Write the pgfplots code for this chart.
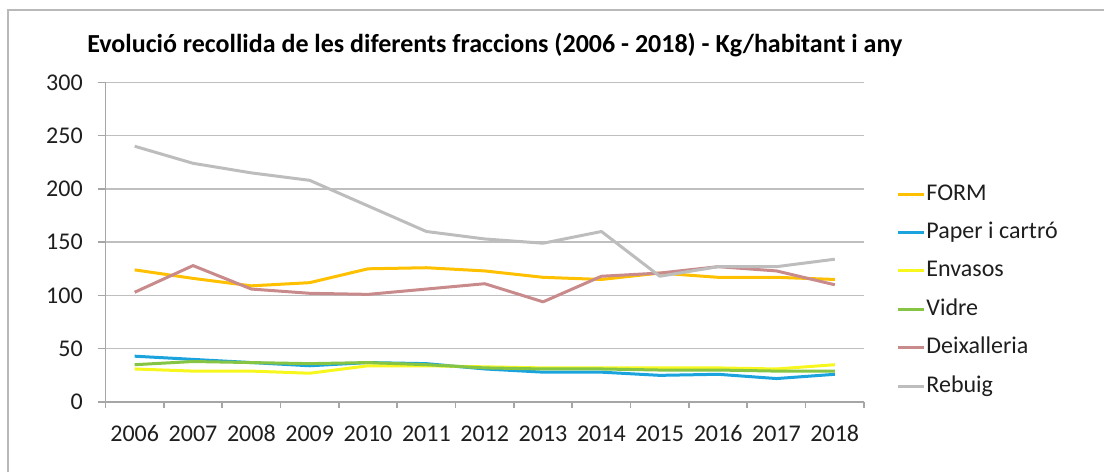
\documentclass[border=0pt]{standalone}
\usepackage{fontspec}
\setmainfont{Carlito}
\usepackage{pgfplots}
\pgfplotsset{compat=1.18}
\definecolor{cForm}{HTML}{FFC000}
\definecolor{cPaper}{HTML}{1AA3DC}
\definecolor{cEnv}{HTML}{F7F71E}
\definecolor{cVidre}{HTML}{86C443}
\definecolor{cDeix}{HTML}{C98A8C}
\definecolor{cRebuig}{HTML}{BDBDBD}
\definecolor{gridc}{HTML}{BFBFBF}
\definecolor{axisc}{HTML}{A6A6A6}
\definecolor{txt}{HTML}{1E1E1E}
\begin{document}
\fontsize{12pt}{14.4pt}\selectfont
\begin{tikzpicture}
\useasboundingbox (-52.75pt,-35pt) rectangle (499.25pt,201pt);
\draw[gray!55, line width=0.8pt] (-48.75pt,-35pt) -- (-48.75pt,196pt) -- (499.25pt,196pt);
\node[anchor=west, inner sep=0pt, text=black, font=\bfseries\fontsize{13pt}{15.6pt}\selectfont] at (-9.25pt,178.5pt) {Evolució recollida de les diferents fraccions (2006 - 2018) - Kg/habitant i any};
\begin{axis}[
  at={(0pt,0pt)}, anchor=south west,
  scale only axis, width=379.25pt, height=159.85pt,
  xmin=2005.5, xmax=2018.5, ymin=0, ymax=300,
  xtick={2006,...,2018}, ytick={0,50,...,300},
  /pgf/number format/1000 sep={},
  /pgf/number format/assume math mode=true,
  axis x line*=bottom, axis y line*=left,
  axis line style={draw=axisc, line width=0.75pt, -},
  ymajorgrids, grid style={draw=gridc, line width=0.75pt},
  tick align=outside, major tick length=4pt,
  ytick style={draw=axisc, line width=0.75pt},
  xtick style={draw=none},
  extra x ticks={2005.5,2006.5,...,2018.5},
  extra x tick labels={},
  extra x tick style={xtick style={draw=axisc, line width=0.75pt}, major tick length=3pt},
  ticklabel style={text=txt, font=\fontsize{12pt}{14.4pt}\selectfont},
  y tick label style={xshift=-3.2pt},
  x tick label style={yshift=-3.2pt, text height=8.5pt, text depth=0pt, anchor=north},
  legend cell align=left,
  legend style={at={(1.042,0.35)}, anchor=west, draw=none, fill=none, inner sep=0pt,
    row sep=7pt, font=\fontsize{12pt}{14.4pt}\selectfont, text=txt,
    nodes={inner sep=0.6pt, text height=8.5pt, text depth=2.5pt}},
  legend image code/.code={\draw[#1] (0pt,0pt) -- (13pt,0pt);},
  every axis plot/.append style={line width=1.5pt, line join=round},
]
\addplot[cForm] coordinates {(2006,124) (2007,116) (2008,109) (2009,112) (2010,125) (2011,126) (2012,123) (2013,117) (2014,115) (2015,121) (2016,117) (2017,117) (2018,115)};
\addlegendentry{FORM}
\addplot[cPaper] coordinates {(2006,43) (2007,40) (2008,37) (2009,34) (2010,37) (2011,36) (2012,31) (2013,28) (2014,28) (2015,25) (2016,26) (2017,22) (2018,26)};
\addlegendentry{Paper i cartró}
\addplot[cEnv] coordinates {(2006,31) (2007,29) (2008,29) (2009,27) (2010,34) (2011,34) (2012,33) (2013,32) (2014,32) (2015,32) (2016,32) (2017,31) (2018,35)};
\addlegendentry{Envasos}
\addplot[cVidre] coordinates {(2006,35) (2007,38) (2008,37) (2009,36) (2010,37) (2011,35) (2012,32) (2013,31) (2014,31) (2015,30) (2016,30) (2017,29) (2018,29)};
\addlegendentry{Vidre}
\addplot[cDeix] coordinates {(2006,103) (2007,128) (2008,106) (2009,102) (2010,101) (2011,106) (2012,111) (2013,94) (2014,118) (2015,121) (2016,127) (2017,123) (2018,110)};
\addlegendentry{Deixalleria}
\addplot[cRebuig] coordinates {(2006,240) (2007,224) (2008,215) (2009,208) (2010,184) (2011,160) (2012,153) (2013,149) (2014,160) (2015,118) (2016,127) (2017,127) (2018,134)};
\addlegendentry{Rebuig}
\end{axis}
\end{tikzpicture}
\end{document}
